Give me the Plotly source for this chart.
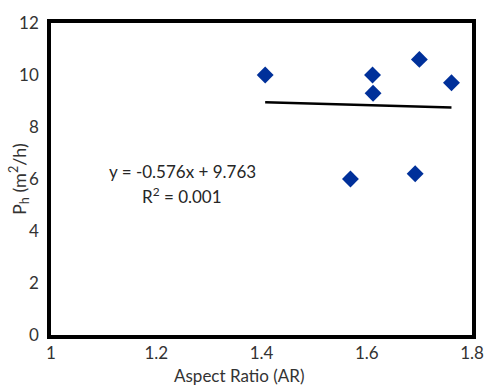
import plotly.graph_objects as go

aspect_ratio = [1.407, 1.611, 1.612, 1.700, 1.761, 1.569, 1.692]
ph_values = [10.0, 10.0, 9.3, 10.6, 9.7, 6.0, 6.2]

slope = -0.576
intercept = 9.763
trend_x = [min(aspect_ratio), max(aspect_ratio)]
trend_y = [slope * x + intercept for x in trend_x]

x_ticks = [1, 1.2, 1.4, 1.6, 1.8]
y_ticks = [0, 2, 4, 6, 8, 10, 12]

font_family = "Lato, Open Sans, sans-serif"

fig = go.Figure()
fig.add_trace(go.Scatter(x=trend_x, y=trend_y, mode="lines",
                         line=dict(color="black", width=2.5), showlegend=False))
fig.add_trace(go.Scatter(x=aspect_ratio, y=ph_values, mode="markers",
                         marker=dict(symbol="diamond", size=13, color="#00309A",
                                     line=dict(width=0)),
                         showlegend=False))

fig.update_layout(
    width=496, height=387,
    margin=dict(l=51, r=22, t=15, b=52),
    paper_bgcolor="white", plot_bgcolor="white",
    font=dict(family=font_family, color="#333333"),
    xaxis=dict(range=[1, 1.8], tickvals=x_ticks, ticktext=[str(t) for t in x_ticks],
               showgrid=False, zeroline=False, showline=True, linecolor="black",
               linewidth=3.5, mirror=True, ticks="", tickfont=dict(size=17)),
    yaxis=dict(range=[0, 12], tickvals=y_ticks, showgrid=False, zeroline=False,
               showline=True, linecolor="black", linewidth=3.5, mirror=True,
               ticks="", tickfont=dict(size=17), ticklabelstandoff=5),
    annotations=[
        dict(text="Aspect Ratio (AR)", xref="paper", yref="paper", x=0.447, y=-0.131,
             xanchor="center", yanchor="middle", showarrow=False, font=dict(size=17)),
        dict(text="P<sub>h</sub> (m<sup>2</sup>/h)", xref="paper", yref="paper",
             x=-0.076, y=0.5, xanchor="center", yanchor="middle", textangle=-90,
             showarrow=False, font=dict(size=18)),
        dict(text="y = -0.576x + 9.763", xref="paper", yref="paper", x=0.313, y=0.525,
             xanchor="center", yanchor="middle", showarrow=False, font=dict(size=17, color="#262626")),
        dict(text="R<sup>2</sup> = 0.001", xref="paper", yref="paper", x=0.311, y=0.447,
             xanchor="center", yanchor="middle", showarrow=False, font=dict(size=17, color="#262626")),
    ],
)

fig.write_html("out.html")
